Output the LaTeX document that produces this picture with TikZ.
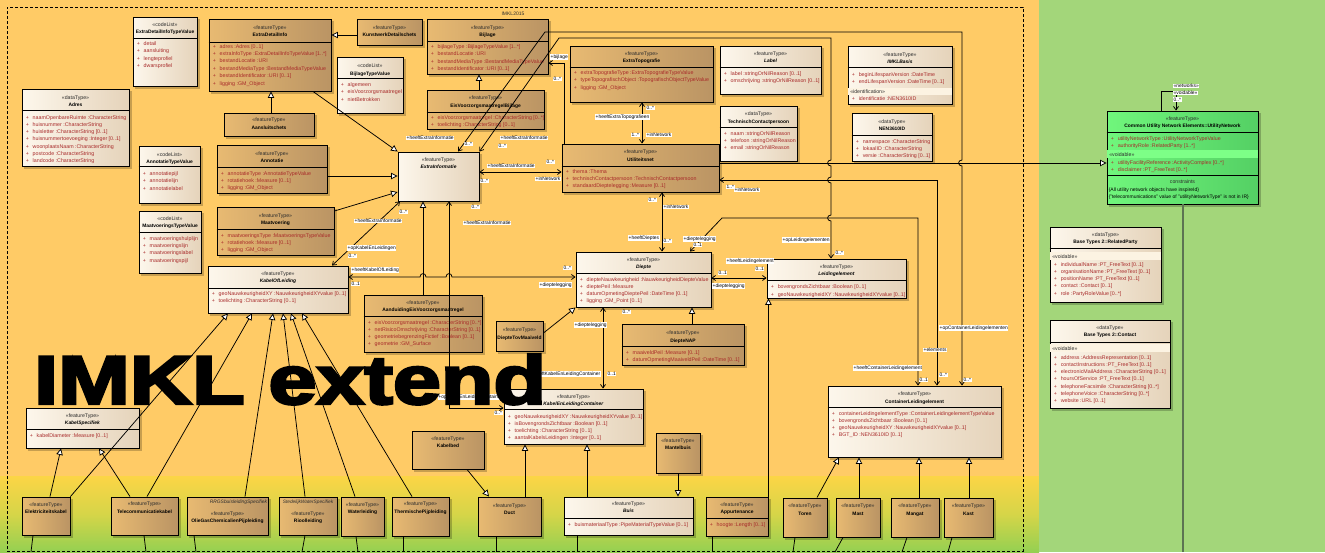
\documentclass[tikz,border=0pt]{standalone}
\usepackage{fontspec}
\setmainfont{Liberation Sans}
\newfontfamily\heavyfont{Liberation Sans}[BoldFeatures={FakeBold=3.5}]
\usetikzlibrary{arrows.meta,fit,calc}
\definecolor{bgor}{RGB}{255,203,102}
\definecolor{bgyl}{RGB}{252,213,70}
\definecolor{bgmd}{RGB}{214,213,72}
\definecolor{bggr}{RGB}{148,208,82}
\definecolor{bgrt}{RGB}{163,214,122}
\definecolor{brL}{RGB}{232,186,114}
\definecolor{brR}{RGB}{186,148,100}
\definecolor{crL}{RGB}{253,247,236}
\definecolor{crR}{RGB}{229,211,186}
\definecolor{gnL}{RGB}{112,246,124}
\definecolor{gnR}{RGB}{84,208,100}
\definecolor{bandc}{RGB}{252,243,226}
\definecolor{bandg}{RGB}{125,255,135}
\definecolor{attc}{RGB}{168,42,42}
\definecolor{stc}{RGB}{45,45,45}
\definecolor{vlc}{RGB}{92,116,82}
\newcommand\fat{\fontsize{5.3}{6}\selectfont}
\newcommand\fst{\fontsize{5.2}{6}\selectfont}
\newcommand\fnm{\fontsize{4.9}{6}\selectfont\bfseries}
\newcommand\flb{\fontsize{4.9}{6}\selectfont}
\newcommand\fcs{\fontsize{5.0}{6}\selectfont}
\newcommand\umlbox[6]{%
  \fill[black,opacity=.22] (#3+2.2,#4+2.2) rectangle (#5+2.6,#6+2.6);
  \node[#1,fit={(#3,#4) (#5,#6)}] (#2) {};}
\newcommand\umlhd[5]{%
  \node[st] (#1-s) at (#1.center |- 0,#4) {«#2»};
  \node[nm] (#1-n) at (#1.center |- 0,#5) {#3};}
\newcommand\umlhl[2]{\draw[bline] (#1.west |- 0,#2) -- (#1.east |- 0,#2);}
\newcommand\umlat[4]{%
  \foreach \atx [count=\i] in {#4}{%
    \pgfmathsetmacro\yy{#2+(\i-1)*#3}
    \node[att] (#1-a\i) at ($(#1.west |- 0,\yy)+(4,0)$) {+\hspace{3.9pt}\atx};}}
\newcommand\umlatB[4]{%
  \foreach \atx [count=\i] in {#4}{%
    \pgfmathsetmacro\yy{#2+(\i-1)*#3}
    \node[att] (#1-b\i) at ($(#1.west |- 0,\yy)+(4,0)$) {+\hspace{3.9pt}\atx};}}
\newcommand\umlband[5]{%
  \fill[#4] ($(#1.west |- 0,#2)+(0.6,0)$) rectangle ($(#1.east |- 0,#3)+(-0.6,0)$);
  \node[st,anchor=base west] (#1-v) at ($(#1.west |- 0,#3)+(2.5,-1.3)$) {«#5»};}
\newcounter{lbc}
\newcommand\lbl[4][west]{\stepcounter{lbc}\node[lb,anchor=#1] (lb\arabic{lbc}) at (#2,#3) {#4};}
\begin{document}
\begin{tikzpicture}[x=1pt,y=-1pt,
  bline/.style={line width=0.9pt,black},
  brownb/.style={draw=black,line width=0.9pt,left color=brL,right color=brR,inner sep=0pt},
  creamb/.style={draw=black,line width=0.9pt,left color=crL,right color=crR,inner sep=0pt},
  greenb/.style={draw=black,line width=0.9pt,left color=gnL,right color=gnR,inner sep=0pt},
  st/.style={font=\fst,text=stc,inner sep=0pt,anchor=base},
  nm/.style={font=\fnm,inner sep=0pt,anchor=base},
  att/.style={font=\fat,text=attc,inner sep=0pt,anchor=base west},
  lb/.style={font=\flb,fill=white,inner sep=0.5pt},
  conn/.style={line width=0.75pt,black},
  gen/.style={conn,-{Triangle[length=6.5pt,width=6.5pt,fill=white]}},
  asc/.style={conn,-{Straight Barb[length=3.5pt,width=5pt]}},
  asc2/.style={conn,{Straight Barb[length=3.5pt,width=5pt]}-{Straight Barb[length=3.5pt,width=5pt]}}]
\useasboundingbox (0,0) rectangle (1325,552);
% backgrounds
\fill[bgor] (0,0) rectangle (1039,476);
\shade[top color=bgyl,bottom color=bggr,middle color=bgmd] (0,476) rectangle (1039,552);
\fill[bgrt] (1039,0) rectangle (1325,552);
\node[draw,dashed,dash pattern=on 3pt off 2pt,line width=0.8pt,inner sep=0pt,fit={(7,7) (1023,551)}] (pkg) {};
\node[font=\fcs,text=stc,inner sep=0pt] (pkgl) at (513,14) {IMKL2015};
% ---------- classes ----------
\umlbox{creamb}{EDITV}{133}{17}{197}{86}
\umlhd{EDITV}{codeList}{ExtraDetailInfoTypeValue}{26}{33}
\umlhl{EDITV}{38}
\umlat{EDITV}{45}{7.5}{detail,aansluiting,lengteprofiel,dwarsprofiel}

\umlbox{brownb}{EDI}{209}{19}{331}{91}
\umlhd{EDI}{featureType}{ExtraDetailInfo}{29}{36}
\umlhl{EDI}{42}
\umlat{EDI}{48}{7.4}{{adres :Adres [0..1]},{extraInfoType :ExtraDetailInfoTypeValue [1..*]},{bestandLocatie :URI},{bestandMediaType :BestandMediaTypeValue},{bestandIdentificator :URI [0..1]},{ligging :GM\_Object}}

\umlbox{creamb}{Adres}{22}{89}{129}{166}
\umlhd{Adres}{dataType}{Adres}{99}{106}
\umlhl{Adres}{110}
\umlat{Adres}{119}{7.25}{{naamOpenbareRuimte :CharacterString},{huisnummer :CharacterString},{huisletter :CharacterString [0..1]},{huisnummertoevoeging :Integer [0..1]},{woonplaatsNaam :CharacterString},{postcode :CharacterString},{landcode :CharacterString}}

\umlbox{brownb}{Aans}{224}{113}{314}{136}
\umlhd{Aans}{featureType}{Aansluitschets}{121}{129}

\umlbox{creamb}{ATV}{139}{146}{200}{203}
\umlhd{ATV}{codeList}{AnnotatieTypeValue}{156}{163}
\umlhl{ATV}{166}
\umlat{ATV}{175}{7.5}{annotatiepijl,annotatielijn,annotatielabel}

\umlbox{brownb}{Ann}{217}{145}{327}{193}
\umlhd{Ann}{featureType}{Annotatie}{155}{162}
\umlhl{Ann}{167}
\umlat{Ann}{175}{7.4}{{annotatieType :AnnotatieTypeValue},{rotatiehoek :Measure [0..1]},{ligging :GM\_Object}}

\umlbox{brownb}{KWD}{357}{19}{422}{45}
\umlhd{KWD}{featureType}{KunstwerkDetailschets}{29}{36}

\umlbox{brownb}{Bij}{427}{19}{548}{74}
\umlhd{Bij}{featureType}{Bijlage}{29}{36}
\umlhl{Bij}{41}
\umlat{Bij}{48}{7.6}{{bijlageType :BijlageTypeValue [1..*]},{bestandLocatie :URI},{bestandMediaType :BestandMediaTypeValue},{bestandIdentificator :URI [0..1]}}

\umlbox{creamb}{BTV}{337}{57}{403}{113}
\umlhd{BTV}{codeList}{BijlageTypeValue}{67}{75}
\umlhl{BTV}{78}
\umlat{BTV}{86}{7.5}{algemeen,eisVoorzorgsmaatregel,nietBetrokken}

\umlbox{brownb}{EVB}{427}{90}{544}{129}
\umlhd{EVB}{featureType}{EisVoorzorgsmaatregelBijlage}{99}{107}
\umlhl{EVB}{112}
\umlat{EVB}{119}{7.8}{{eisVoorzorgsmaatregel :CharacterString [0..*]},{toelichting :CharacterString [0..1]}}

\umlbox{brownb}{ETop}{570}{46}{713}{102}
\umlhd{ETop}{featureType}{ExtraTopografie}{55}{62}
\umlhl{ETop}{67}
\umlat{ETop}{74}{7.6}{{extraTopografieType :ExtraTopografieTypeValue},{typeTopografischObject :TopografischObjectTypeValue},{ligging :GM\_Object}}

\umlbox{creamb}{EI}{398}{152}{479}{201}
\umlhd{EI}{featureType}{\textit{ExtraInformatie}}{161}{168}

\umlbox{brownb}{Util}{562}{144}{719}{192}
\umlhd{Util}{featureType}{Utiliteitsnet}{153}{161}
\umlhl{Util}{166}
\umlat{Util}{173}{7.3}{{thema :Thema},{technischContactpersoon :TechnischContactpersoon},{standaardDieptelegging :Measure [0..1]}}

\umlbox{creamb}{Lab}{720}{46}{821}{94}
\umlhd{Lab}{featureType}{\textit{Label}}{55}{62}
\umlhl{Lab}{67}
\umlat{Lab}{75}{7.3}{{label :stringOrNilReason [0..1]},{omschrijving :stringOrNilReason [0..1]}}

\umlbox{creamb}{TCP}{720}{106}{797}{161}
\umlhd{TCP}{dataType}{TechnischContactpersoon}{115}{123}
\umlhl{TCP}{127}
\umlat{TCP}{135}{7.3}{{naam :stringOrNilReason},{telefoon :stringOrNilReason},{email :stringOrNilReason}}

\umlbox{creamb}{IMB}{848}{46}{952}{104}
\umlhd{IMB}{featureType}{\textit{IMKLBasis}}{56}{63}
\umlhl{IMB}{67}
\umlat{IMB}{76}{7.2}{{beginLifespanVersion :DateTime},{endLifespanVersion :DateTime [0..1]}}
\umlband{IMB}{87.5}{94.5}{bandc}{identification}
\umlatB{IMB}{100}{7}{{identificatie :NEN3610ID}}

\umlbox{creamb}{NEN}{852}{113}{932}{161}
\umlhd{NEN}{dataType}{NEN3610ID}{123}{130}
\umlhl{NEN}{135}
\umlat{NEN}{143}{7.2}{{namespace :CharacterString},{lokaalID :CharacterString},{versie :CharacterString [0..1]}}

\umlbox{brownb}{Maat}{217}{207}{334}{255}
\umlhd{Maat}{featureType}{Maatvoering}{217}{224}
\umlhl{Maat}{229}
\umlat{Maat}{237}{7.2}{{maatvoeringsType :MaatvoeringsTypeValue},{rotatiehoek :Measure [0..1]},{ligging :GM\_Object}}

\umlbox{creamb}{MTV}{139}{211}{201}{273}
\umlhd{MTV}{codeList}{MaatvoeringsTypeValue}{220}{227}
\umlhl{MTV}{232}
\umlat{MTV}{240}{7.4}{maatvoeringshulplijn,maatvoeringslijn,maatvoeringslabel,maatvoeringspijl}

\umlbox{creamb}{KOL}{208}{266}{348}{313}
\umlhd{KOL}{featureType}{\textit{KabelOfLeiding}}{275}{282}
\umlhl{KOL}{288}
\umlat{KOL}{295}{7}{{geoNauwkeurigheidXY :NauwkeurigheidXYvalue [0..1]},{toelichting :CharacterString [0..1]}}

\umlbox{brownb}{AEV}{364}{295}{482}{352}
\umlhd{AEV}{featureType}{AanduidingEisVoorzorgsmaatregel}{304}{311}
\umlhl{AEV}{316}
\umlat{AEV}{324}{7.3}{{eisVoorzorgsmaatregel :CharacterString [0..*]},{netRisicoOmschrijving :CharacterString [0..1]},{geometriebegrenzingFictief :Boolean [0..1]},{geometrie :GM\_Surface}}

\umlbox{brownb}{DTM}{496}{321}{543}{351}
\umlhd{DTM}{featureType}{DiepteTovMaaiveld}{331}{339}

\umlbox{creamb}{Diep}{576}{252}{711}{307}
\umlhd{Diep}{featureType}{\textit{Diepte}}{261}{268}
\umlhl{Diep}{273}
\umlat{Diep}{281}{7.3}{{diepteNauwkeurigheid :NauwkeurigheidDiepteValue},{dieptePeil :Measure},{datumOpmetingDieptePeil :DateTime [0..1]},{ligging :GM\_Point [0..1]}}

\umlbox{brownb}{DNAP}{622}{324}{744}{365}
\umlhd{DNAP}{featureType}{DiepteNAP}{334}{342}
\umlhl{DNAP}{346}
\umlat{DNAP}{354}{7.2}{{maaiveldPeil :Measure [0..1]},{datumOpmetingMaaiveldPeil :DateTime [0..1]}}

\umlbox{creamb}{Leid}{767}{259}{906}{298}
\umlhd{Leid}{featureType}{\textit{Leidingelement}}{268}{275}
\umlhl{Leid}{280}
\umlat{Leid}{288}{8}{{bovengrondsZichtbaar :Boolean [0..1]},{geoNauwkeurigheidXY :NauwkeurigheidXYvalue [0..1]}}

\umlbox{creamb}{KLC}{504}{389}{643}{444}
\umlhd{KLC}{featureType}{\textit{KabelEnLeidingContainer}}{398}{405}
\umlhl{KLC}{409}
\umlat{KLC}{418}{7.3}{{geoNauwkeurigheidXY :NauwkeurigheidXYvalue [0..1]},{isBovengrondsZichtbaar :Boolean [0..1]},{toelichting :CharacterString [0..1]},{aantalKabelsLeidingen :Integer [0..1]}}

\umlbox{creamb}{KSp}{26}{408}{139}{448}
\umlhd{KSp}{featureType}{\textit{KabelSpecifiek}}{417}{424.5}
\umlhl{KSp}{429}
\umlat{KSp}{437}{7}{{kabelDiameter :Measure [0..1]}}

\umlbox{creamb}{Buis}{564}{497}{693}{535}
\umlhd{Buis}{featureType}{\textit{Buis}}{505.3}{512}
\umlhl{Buis}{518}
\umlat{Buis}{526}{7}{{buismateriaalType :PipeMaterialTypeValue [0..1]}}

\umlbox{brownb}{Duct}{478}{497}{541}{536}
\umlhd{Duct}{featureType}{Duct}{507}{514}

\umlbox{brownb}{Kbed}{412}{431}{484}{469}
\umlhd{Kbed}{featureType}{Kabelbed}{440.3}{447}

\umlbox{brownb}{Mant}{656}{433}{700}{473}
\umlhd{Mant}{featureType}{Mantelbuis}{442.7}{449.7}

\umlbox{brownb}{Appu}{706}{497}{768}{536}
\umlhd{Appu}{featureType}{Appurtenance}{506}{513}
\umlhl{Appu}{518}
\umlat{Appu}{526}{7}{{hoogte :Length [0..1]}}

\umlbox{creamb}{CLE}{828}{386}{1001}{457}
\umlhd{CLE}{featureType}{ContainerLeidingelement}{395}{403}
\umlhl{CLE}{407}
\umlat{CLE}{415}{7.3}{{containerLeidingelementType :ContainerLeidingelementTypeValue},{bovengrondsZichtbaar :Boolean [0..1]},{geoNauwkeurigheidXY :NauwkeurigheidXYvalue [0..1]},{BGT\_ID :NEN3610ID [0..1]}}

\umlbox{brownb}{Tor}{783}{498}{827}{537}
\umlhd{Tor}{featureType}{Toren}{507}{515}
\umlbox{brownb}{Mast}{836}{498}{880}{537}
\umlhd{Mast}{featureType}{Mast}{507}{515}
\umlbox{brownb}{Mang}{891}{498}{939}{537}
\umlhd{Mang}{featureType}{Mangat}{507}{515}
\umlbox{brownb}{Kast}{944}{498}{993}{537}
\umlhd{Kast}{featureType}{Kast}{507}{515}

\umlbox{brownb}{Elek}{22}{497}{70}{535}
\umlhd{Elek}{featureType}{Elektriciteitskabel}{506}{513}
\umlbox{brownb}{Tele}{111}{497}{178}{535}
\umlhd{Tele}{featureType}{Telecommunicatiekabel}{505.5}{513}
\umlbox{brownb}{OGC}{187}{497}{268}{535}
\node[st,font=\fontsize{4.9}{6}\selectfont\itshape,anchor=base east] (OGC-x) at ($(OGC.east |- 0,503.5)+(-1.2,0)$) {RRGSbuisleidingSpecifiek};
\umlhd{OGC}{featureType}{OlieGasChemicalienPijpleiding}{515}{522}
\umlbox{brownb}{Riool}{279}{497}{337}{535}
\node[st,font=\fontsize{4.8}{6}\selectfont\itshape] (Riool-x) at (Riool.center |- 0,503.5) {StedelijkWaterSpecifiek};
\umlhd{Riool}{featureType}{Rioolleiding}{515}{522}
\umlbox{brownb}{Water}{341}{497}{384}{536}
\umlhd{Water}{featureType}{Waterleiding}{506}{513}
\umlbox{brownb}{Therm}{392}{497}{449}{536}
\umlhd{Therm}{featureType}{ThermischePijpleiding}{505}{513}

% right side
\umlbox{greenb}{UN}{1107}{111}{1258}{204}
\umlhd{UN}{featureType}{Common Utility Network Elements::UtilityNetwork}{120}{127}
\umlhl{UN}{132}
\umlat{UN}{140}{7}{{utilityNetworkType :UtilityNetworkTypeValue},{authorityRole :RelatedParty [1..*]}}
\umlband{UN}{150}{158}{bandg}{voidable}
\umlatB{UN}{164}{7}{{utilityFacilityReference :ActivityComplex [0..*]},{disclaimer :PT\_FreeText [0..*]}}
\umlhl{UN}{175}
\node[st] (UN-c) at (UN.center |- 0,183) {constraints};
\node[att,font=\fcs,text=black] (UN-c1) at ($(UN.west |- 0,191)+(2,0)$) {\{All utility network objects have inspireId\}};
\node[att,font=\fcs,text=black] (UN-c2) at ($(UN.west |- 0,198)+(2,0)$) {\{"telecommunications" value of "utilityNetworkType" is not in IR\}};

\umlbox{creamb}{RP}{1050}{227}{1161}{302}
\umlhd{RP}{dataType}{Base Types 2::RelatedParty}{236}{243}
\umlhl{RP}{248}
\umlband{RP}{252}{260}{bandc}{voidable}
\umlat{RP}{266}{7.3}{{individualName :PT\_FreeText [0..1]},{organisationName :PT\_FreeText [0..1]},{positionName :PT\_FreeText [0..1]},{contact :Contact [0..1]},{role :PartyRoleValue [0..*]}}

\umlbox{creamb}{Con}{1050}{320}{1170}{408}
\umlhd{Con}{dataType}{Base Types 2::Contact}{329}{336}
\umlhl{Con}{342}
\umlband{Con}{344}{352}{bandc}{voidable}
\umlat{Con}{359}{7.3}{{address :AddressRepresentation [0..1]},{contactInstructions :PT\_FreeText [0..1]},{electronicMailAddress :CharacterString [0..1]},{hoursOfService :PT\_FreeText [0..1]},{telephoneFacsimile :CharacterString [0..*]},{telephoneVoice :CharacterString [0..*]},{website :URL [0..1]}}

\coordinate (e0) at (1183,552);
\draw[line width=1.2pt,vlc] (1183,0 |- UN.south) -- (e0);

% ---------- generalizations ----------
\draw[gen] (KWD.west |- 0,35) -- (EDI.east |- 0,35);
\draw[gen] (271,0 |- Aans.north) -- (271,0 |- EDI.south);
\draw[gen] (313,0 |- EDI.south) -- (EI.north west);
\draw[gen] (Ann.east |- 0,176) -- (EI.west |- 0,176);
\draw[gen] (Maat.east |- 0,211) -- (EI.west |- 0,192);
\draw[gen] (479,0 |- EVB.north) -- (479,0 |- Bij.south);
\draw[gen] (423,0 |- AEV.north) -- (423,0 |- EI.south);
\draw[gen] (Util.east |- 0,163) -- (UN.west |- 0,163);
\draw[gen] (692,0 |- DNAP.north) -- (692,0 |- Diep.south);
\draw[gen] (DTM.east |- 0,333) -- (Diep.south west);
\draw[gen] (Appu.north east) -- (Appu.north east |- Leid.south);
\draw[gen] (525,0 |- Duct.north) -- (525,0 |- KLC.south);
\draw[gen] (587,0 |- Buis.north) -- (587,0 |- KLC.south);
\draw[gen] (678,0 |- Mant.south) -- (678,0 |- Buis.north);
\draw[gen] (467,0 |- Kbed.south) -- (489,0 |- Duct.north);
\draw[gen] (817,0 |- Tor.north) -- (839,0 |- CLE.south);
\draw[gen] (859,0 |- Mast.north) -- (859,0 |- CLE.south);
\draw[gen] (919,0 |- Mang.north) -- (919,0 |- CLE.south);
\draw[gen] (969,0 |- Kast.north) -- (969,0 |- CLE.south);
\draw[gen] (Elek.north east) -- (228,0 |- KOL.south);
\draw[gen] (147,0 |- Tele.north) -- (252,0 |- KOL.south);
\draw[gen] (245,0 |- OGC.north) -- (273,0 |- KOL.south);
\draw[gen] (305,0 |- Riool.north) -- (283,0 |- KOL.south);
\draw[gen] (355,0 |- Water.north) -- (291,0 |- KOL.south);
\draw[gen] (412,0 |- Therm.north) -- (302,0 |- KOL.south);
\draw[gen] (50,0 |- Elek.north) -- (61,0 |- KSp.south);
\draw[gen] (130,0 |- Tele.north) -- (99,0 |- KSp.south);

% ---------- associations ----------
\draw[asc2] (332,0 |- KOL.north) -- (400,0 |- EI.south);
\draw[asc2] (449,0 |- EI.south) |- (KLC.west |- 0,408);
\draw[asc2] (KOL.east |- 0,277) -- (420,277) .. controls (420,272.5) and (426,272.5) .. (426,277) -- (446,277) .. controls (446,272.5) and (452,272.5) .. (452,277) -- (Diep.west |- 0,277);
\draw[asc2] (EI.east |- 0,172) -- (Util.west |- 0,172);
\draw[asc] (564,0 |- Util.north) |- (Bij.east |- 0,63);
\draw[asc2] (642,0 |- ETop.south) -- (642,0 |- Util.north);
\draw[asc2] (962,0 |- CLE.north) -- (962,166) .. controls (957.5,166) and (957.5,160) .. (962,160) -- (962,32) -- (545,32) -- (458,0 |- EI.north);
\draw[asc2] (831,0 |- Leid.north) -- (831,221) .. controls (826.5,221) and (826.5,215) .. (831,215) -- (831,183) .. controls (826.5,183) and (826.5,177) .. (831,177) -- (831,166) .. controls (826.5,166) and (826.5,160) .. (831,160) -- (831,38) -- (559,38) -- (EI.north east);
\draw[asc2] (937,0 |- CLE.north) |- (Util.east |- 0,180);
\draw[asc2] (918,0 |- CLE.north) -- (918,218) -- (722,218) -- (690,0 |- Diep.north);
\draw[asc2] (Diep.east |- 0,278) -- (Leid.west |- 0,278);
\draw[asc2] (662,0 |- Util.south) -- (662,0 |- Diep.north);
\draw[asc2] (603,0 |- Diep.south) -- (603,0 |- KLC.north);
\draw[asc] (1161,0 |- UN.north) -- (1161,91) -- (1176,91) -- (1176,0 |- UN.north);

% ---------- stubs leaving the picture ----------
\coordinate (e1) at (31,552);  \draw[conn] (33,0 |- Elek.south) -- (e1);
\coordinate (e2) at (146,552); \draw[conn] (144,0 |- Tele.south) -- (e2);
\coordinate (e3) at (196,552); \draw[conn] (194,0 |- OGC.south) -- (e3);
\coordinate (e4) at (302,552); \draw[conn] (305,0 |- Riool.south) -- (e4);
\coordinate (e5) at (358,552); \draw[conn] (356,0 |- Water.south) -- (e5);
\coordinate (e6) at (403,552); \draw[conn] (403,0 |- Therm.south) -- (e6);
\coordinate (e7) at (496,552); \draw[conn] (496,0 |- Duct.south) -- (e7);
\coordinate (e8) at (577,552); \draw[conn] (577,0 |- Buis.south) -- (e8);
\coordinate (e9) at (712,552); \draw[conn] (712,0 |- Appu.south) -- (e9);
\coordinate (e10) at (793,552); \draw[conn] (795,0 |- Tor.south) -- (e10);
\coordinate (e11) at (835,552); \draw[conn] (843,0 |- Mast.south) -- (e11);
\coordinate (e12) at (902,552); \draw[conn] (907,0 |- Mang.south) -- (e12);
\coordinate (e13) at (948,552); \draw[conn] (952,0 |- Kast.south) -- (e13);

% ---------- labels ----------
\lbl{406}{138}{+heeftExtraInformatie}
\lbl{464}{144}{0..*}
\lbl{500}{138}{+heeftExtraInformatie}
\lbl{498}{146}{0..*}
\lbl{550}{57}{+bijlage}
\lbl{553}{79}{0..*}
\lbl{646}{108}{0..*}
\lbl{595}{117}{+heeftExtraTopografieen}
\lbl{631}{135}{1..*}
\lbl{646}{135}{+inNetwork}
\lbl{487}{166}{+heeftExtraInformatie}
\lbl{480}{181}{0..*}
\lbl{546}{162}{0..*}
\lbl{535}{179}{+inNetwork}
\lbl{726}{187}{1..*}
\lbl{734}{190}{+inNetwork}
\lbl{399}{212}{0..*}
\lbl{354}{221}{+heeftExtraInformatie}
\lbl{471}{207}{0..*}
\lbl{463}{223}{+heeftExtraInformatie}
\lbl{347}{248}{+opKabelEnLeidingen}
\lbl{348}{256}{0..*}
\lbl{351}{270}{+heeftKabelOfLeiding}
\lbl{351}{284}{0..1}
\lbl{563}{268}{0..*}
\lbl{539}{285}{+dieptelegging}
\lbl{648}{200}{0..*}
\lbl{628}{238}{+heeftDieptes}
\lbl{663}{207}{+inNetwork}
\lbl{663}{241}{0..*}
\lbl{622}{312}{0..*}
\lbl{574}{325}{+dieptelegging}
\lbl{683}{239}{+dieptelegging}
\lbl{693}{245}{0..1}
\lbl{782}{240}{+opLeidingelementen}
\lbl{835}{253}{0..*}
\lbl{726}{261}{+heeftLeidingelement}
\lbl{718}{273}{0..1}
\lbl{755}{269}{0..1}
\lbl{712}{286}{+dieptelegging}
\lbl{939}{328}{+opContainerLeidingelementen}
\lbl{923}{350}{+elements}
\lbl{853}{368}{+heeftContainerLeidingelement}
\lbl{919}{380}{0..1}
\lbl{939}{375}{0..*}
\lbl{963}{380}{0..*}
\lbl[east]{601}{374}{+heeftKabelEnLeidingContainer}
\lbl{607}{374}{0..1}
\lbl[east]{503}{397}{+opKabelEnLeidingContainer}
\lbl{494}{413}{0..*}
\lbl{1173}{86}{«networks»}
\lbl{1173}{93}{«voidable»}
\lbl{1173}{99.5}{0..*}

% ---------- big title ----------
\node[inner sep=0pt,anchor=base west] (big) at (34,404) {\resizebox{512pt}{50pt}{\fontsize{60}{60}\selectfont\heavyfont\bfseries IMKL extend}};
\end{tikzpicture}
\end{document}
